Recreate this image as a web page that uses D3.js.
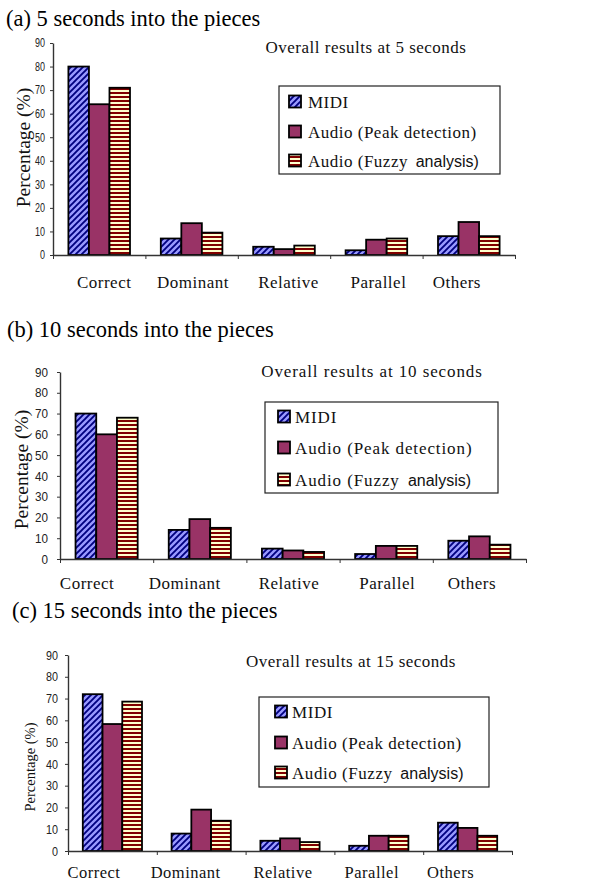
<!DOCTYPE html>
<html>
<head>
<meta charset="utf-8">
<script src="https://cdn.jsdelivr.net/npm/d3@7/dist/d3.min.js"></script>
<style>
  html, body { margin: 0; padding: 0; background: #ffffff; }
  svg { display: block; }
</style>
</head>
<body>
<div id="chart"></div>
<script>
// ---------- data ----------
const categories = ["Correct", "Dominant", "Relative", "Parallel", "Others"];
const seriesNames = ["MIDI", "Audio (Peak detection)", "Audio (Fuzzy analysis)"];
const yTicks = [0, 10, 20, 30, 40, 50, 60, 70, 80, 90];
const panelTitles = ["(a) 5 seconds into the pieces", "(b) 10 seconds into the pieces", "(c) 15 seconds into the pieces"];
const chartTitles = ["Overall results at 5 seconds", "Overall results at 10 seconds", "Overall results at 15 seconds"];
const yAxisLabel = "Percentage (%)";

const midi5   = [80, 7, 3.5, 2, 8];
const peak5   = [64, 13.5, 2.5, 6.5, 14];
const fuzzy5  = [71, 9.5, 4, 7, 8];

const midi10  = [70, 14, 5, 2.4, 8.8];
const peak10  = [60, 19.2, 4.1, 6.3, 10.9];
const fuzzy10 = [68, 15, 3.4, 6.3, 6.9];

const midi15  = [72, 8, 4.7, 2.4, 13];
const peak15  = [58.3, 19, 5.8, 7, 10.6];
const fuzzy15 = [68.6, 13.9, 4.1, 7, 7];

const panelValues = [
  [midi5, peak5, fuzzy5],
  [midi10, peak10, fuzzy10],
  [midi15, peak15, fuzzy15]
];

// ---------- layout (positions/styles only) ----------
const layouts = [
  { x0: 53, x1: 515, yTop: 43, y0: 255, titleX: 6, titleY: 26,
    ctX: 366, ctY: 53, ctLs: 0.5,
    legX: 279, legY: 86, legW: 221, legH: 88, legItems: [102, 132, 161], swX: 289, txX: 308, legLs: 0.5,
    ylX: 30, ylY: 147.5, ylSize: 19.5,
    tickSize: 12, tickW: 5, tickPad: 5,
    catY: 288, catSize: 17, catDx: [5, 1.5, 4.5, 2, -12] },
  { x0: 60, x1: 526, yTop: 372, y0: 559, titleX: 7, titleY: 337,
    ctX: 372, ctY: 377, ctLs: 0.9,
    legX: 265, legY: 402, legW: 233, legH: 91, legItems: [417, 448, 480], swX: 278, txX: 295, legLs: 0.9,
    ylX: 28, ylY: 469.5, ylSize: 19.5,
    tickSize: 13, tickW: 6.5, tickPad: 9,
    catY: 589, catSize: 17, catDx: [-19.5, -15, -4, 1, -7.5] },
  { x0: 68, x1: 512, yTop: 655, y0: 851, titleX: 12, titleY: 618,
    ctX: 351, ctY: 667, ctLs: 0.5,
    legX: 259, legY: 697, legW: 230, legH: 90, legItems: [712, 743, 773], swX: 275, txX: 292, legLs: 0.55,
    ylX: 35, ylY: 767, ylSize: 14.5,
    tickSize: 13, tickW: 6, tickPad: 7,
    catY: 878, catSize: 16.5, catDx: [-18.5, -15.5, -7, -7, -17] }
];

const serif = "'Liberation Serif', 'Times New Roman', serif";
const sans = "'Liberation Sans', Arial, sans-serif";

const W = 616, H = 881;
const svg = d3.select("#chart").append("svg").attr("width", W).attr("height", H)
  .attr("viewBox", `0 0 ${W} ${H}`);

// ---------- patterns ----------
const defs = svg.append("defs");
const pDiag = defs.append("pattern").attr("id", "pat-midi")
  .attr("patternUnits", "userSpaceOnUse").attr("width", 6).attr("height", 6);
pDiag.append("rect").attr("width", 6).attr("height", 6).attr("fill", "#9999FF");
pDiag.append("path").attr("d", "M-1,1 l2,-2 M0,6 l6,-6 M5,7 l2,-2")
  .attr("stroke", "#000080").attr("stroke-width", 1.9);

const pHor = defs.append("pattern").attr("id", "pat-fuzzy")
  .attr("patternUnits", "userSpaceOnUse").attr("width", 4).attr("height", 4);
pHor.append("rect").attr("width", 4).attr("height", 4).attr("fill", "#FFFFCC");
pHor.append("rect").attr("width", 4).attr("height", 2).attr("fill", "#800000");

const fills = ["url(#pat-midi)", "#993366", "url(#pat-fuzzy)"];

// ---------- draw panels ----------
panelValues.forEach((vals, pi) => {
  const L = layouts[pi];
  const g = svg.append("g");

  // panel title
  g.append("text").attr("x", L.titleX).attr("y", L.titleY)
    .attr("font-family", serif).attr("font-size", 22.5).attr("fill", "#000")
    .text(panelTitles[pi]);

  const x = d3.scaleBand().domain(categories).range([L.x0, L.x1]).paddingInner(0).paddingOuter(0);
  const xs = d3.scaleBand().domain(seriesNames).range([0, x.bandwidth()]).paddingInner(0).paddingOuter(0.75);
  const y = d3.scaleLinear().domain([0, 90]).range([L.y0, L.yTop]);

  // bars
  vals.forEach((series, si) => {
    g.append("g").selectAll("rect").data(series).join("rect")
      .attr("x", (d, j) => x(categories[j]) + xs(seriesNames[si]))
      .attr("y", d => y(d))
      .attr("width", xs.bandwidth())
      .attr("height", d => y(0) - y(d))
      .attr("fill", fills[si])
      .attr("stroke", "#000").attr("stroke-width", 1.8);
  });

  // y axis
  const ya = g.append("g").attr("transform", `translate(${L.x0},0)`)
    .call(d3.axisLeft(y).tickValues(yTicks).tickSize(3).tickSizeOuter(0).tickPadding(L.tickPad));
  ya.select(".domain").attr("stroke", "#333").attr("stroke-width", 1.4);
  ya.selectAll(".tick line").attr("stroke", "#333");
  ya.selectAll(".tick text").attr("font-family", sans).attr("font-size", L.tickSize).attr("fill", "#222")
    .attr("lengthAdjust", "spacingAndGlyphs")
    .attr("textLength", d => String(d).length * L.tickW);

  // x axis (tick marks at category boundaries)
  const xb = d3.scaleLinear().domain([0, categories.length]).range([L.x0, L.x1]);
  const xa = g.append("g").attr("transform", `translate(0,${L.y0})`)
    .call(d3.axisBottom(xb).tickValues(d3.range(categories.length + 1)).tickSize(4).tickSizeOuter(0).tickFormat(""));
  xa.select(".domain").attr("stroke", "#333").attr("stroke-width", 1.4);
  xa.selectAll(".tick line").attr("stroke", "#333");

  // category labels
  g.append("g").selectAll("text").data(categories).join("text")
    .attr("x", (d, j) => x(d) + x.bandwidth() / 2 + L.catDx[j])
    .attr("y", L.catY)
    .attr("text-anchor", "middle")
    .attr("font-family", serif).attr("font-size", L.catSize).attr("letter-spacing", 0.5)
    .attr("fill", "#111")
    .text(d => d);

  // y axis label (baseline at ylX)
  g.append("text")
    .attr("transform", `translate(${L.ylX},${L.ylY}) rotate(-90)`)
    .attr("text-anchor", "middle")
    .attr("font-family", serif).attr("font-size", L.ylSize)
    .attr("fill", "#111")
    .text(yAxisLabel);

  // chart title
  g.append("text").attr("x", L.ctX).attr("y", L.ctY).attr("text-anchor", "middle")
    .attr("font-family", serif).attr("font-size", 17).attr("letter-spacing", L.ctLs)
    .attr("fill", "#111")
    .text(chartTitles[pi]);

  // legend
  g.append("rect").attr("x", L.legX).attr("y", L.legY).attr("width", L.legW).attr("height", L.legH)
    .attr("fill", "#fff").attr("stroke", "#222").attr("stroke-width", 1.2);
  seriesNames.forEach((name, si) => {
    const cy = L.legItems[si];
    g.append("rect").attr("x", L.swX).attr("y", cy - 6.5).attr("width", 12).attr("height", 12)
      .attr("fill", fills[si]).attr("stroke", "#000").attr("stroke-width", 1.8);
    const t = g.append("text").attr("x", L.txX).attr("y", cy + 6)
      .attr("font-family", serif).attr("font-size", 17).attr("letter-spacing", L.legLs).attr("fill", "#111");
    const k = name.indexOf("analysis)");
    if (k >= 0) {
      t.append("tspan").text(name.slice(0, k));
      t.append("tspan").attr("font-family", sans).attr("font-size", 16).attr("letter-spacing", 0)
        .attr("dx", 3).text(name.slice(k));
    } else {
      t.text(name);
    }
  });
});
</script>
</body>
</html>
